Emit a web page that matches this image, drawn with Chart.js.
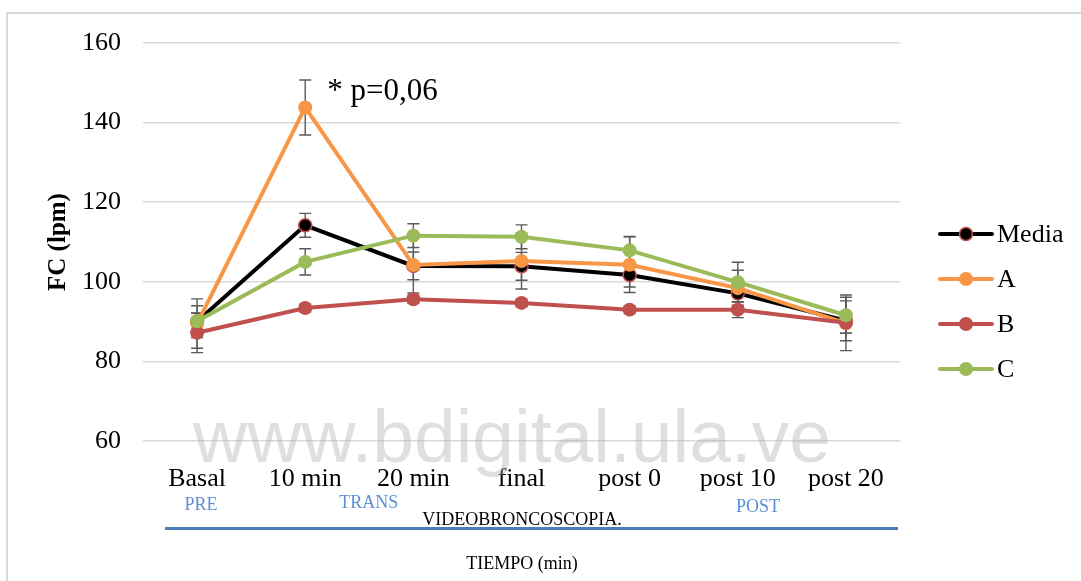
<!DOCTYPE html>
<html>
<head>
<meta charset="utf-8">
<title>FC (lpm) - Videobroncoscopia</title>
<script src="https://cdn.jsdelivr.net/npm/chart.js@4.4.1/dist/chart.umd.min.js"></script>
<style>
  html, body { margin: 0; padding: 0; background: #ffffff; }
  #wrap { position: relative; width: 1081px; height: 581px; }
</style>
</head>
<body>
<div id="wrap"><canvas id="chart" width="1081" height="581"></canvas></div>
<script>
// Categories (time points of the procedure)
const categories = ['Basal', '10 min', '20 min', 'final', 'post 0', 'post 10', 'post 20'];

// Heart rate (lpm) per group
const media  = [90.0, 114.2, 104.0, 103.9, 101.7, 97.1, 90.2];
const grupoA = [89.5, 143.8, 104.2, 105.2, 104.3, 98.4, 89.6];
const grupoB = [87.2, 93.4, 95.6, 94.7, 93.0, 93.0, 89.7];
const grupoC = [90.1, 105.0, 111.6, 111.3, 107.9, 99.9, 91.6];

// Symmetric error (± lpm) per group
const errMedia = [4.0, 3.0, 3.5, 3.5, 3.0, 3.0, 5.0];
const errA     = [6.2, 6.9, 7.0, 7.0, 7.0, 4.5, 2.5];
const errB     = [5.0, 1.0, 1.0, 1.0, 1.0, 2.0, 7.0];
const errC     = [2.0, 3.3, 3.0, 3.0, 3.5, 5.0, 4.5];

// Y axis ticks
const yTicks = [60, 80, 100, 120, 140, 160];

// Phase labels under the axis
const phaseLabels = ['PRE', 'TRANS', 'POST'];
const phaseAt = [0, 1.55, 5.15];   // category positions of the phase labels

const colors = {
  Media: '#000000',
  A: '#f79646',
  B: '#c0504d',
  C: '#9bbb59'
};

const SERIF = '"Liberation Serif", "Times New Roman", serif';

// Excel-style vertical error bars with caps, drawn beneath the lines
const errorBars = {
  id: 'errorBars',
  beforeDatasetsDraw(chart) {
    const { ctx, scales: { x, y } } = chart;
    ctx.save();
    ctx.strokeStyle = '#5a5a5a';
    ctx.lineWidth = 1.4;
    chart.data.datasets.forEach(ds => {
      ds.data.forEach((v, i) => {
        const e = ds.errors[i];
        if (e == null) return;
        const px = x.getPixelForValue(i);
        const top = y.getPixelForValue(v + e);
        const bot = y.getPixelForValue(v - e);
        ctx.beginPath();
        ctx.moveTo(px, top); ctx.lineTo(px, bot);
        ctx.moveTo(px - 6, top); ctx.lineTo(px + 6, top);
        ctx.moveTo(px - 6, bot); ctx.lineTo(px + 6, bot);
        ctx.stroke();
      });
    });
    ctx.restore();
  }
};

// Frame, legend, annotations and time-axis labels
const decorations = {
  id: 'decorations',
  beforeDraw(chart) {
    const { ctx } = chart;
    ctx.save();
    ctx.fillStyle = '#ffffff';
    ctx.fillRect(0, 0, chart.width, chart.height);
    ctx.strokeStyle = '#d9d9d9';
    ctx.lineWidth = 2;
    ctx.strokeRect(7, 13, chart.width + 20, chart.height + 20);
    ctx.restore();
  },
  afterDraw(chart) {
    const { ctx, scales: { x, y } } = chart;
    ctx.save();

    // significance note next to the 10 min peak
    ctx.fillStyle = '#000000';
    ctx.font = '31px ' + SERIF;
    ctx.textAlign = 'left';
    ctx.textBaseline = 'middle';
    ctx.fillText('* p=0,06', x.getPixelForValue(1) + 22, y.getPixelForValue(147.6));

    // legend
    const legendX = 940, legendY0 = 234, legendStep = 45;
    chart.data.datasets.forEach((ds, k) => {
      const ly = legendY0 + k * legendStep;
      ctx.strokeStyle = ds.borderColor;
      ctx.lineWidth = 4;
      ctx.lineCap = 'round';
      ctx.beginPath();
      ctx.moveTo(legendX, ly); ctx.lineTo(legendX + 52, ly);
      ctx.stroke();
      ctx.beginPath();
      ctx.arc(legendX + 26, ly, ds.pointRadius, 0, Math.PI * 2);
      ctx.fillStyle = ds.pointBackgroundColor;
      ctx.fill();
      if (ds.pointBorderWidth) {
        ctx.lineWidth = ds.pointBorderWidth;
        ctx.strokeStyle = ds.pointBorderColor;
        ctx.stroke();
      }
      ctx.fillStyle = '#000000';
      ctx.font = '26px ' + SERIF;
      ctx.textAlign = 'left';
      ctx.textBaseline = 'middle';
      ctx.fillText(ds.label, legendX + 57, ly + 1);
    });

    // phase labels
    ctx.font = '18px ' + SERIF;
    ctx.fillStyle = '#5b8fd6';
    ctx.textAlign = 'center';
    ctx.textBaseline = 'middle';
    const phaseY = [505, 503, 507];
    phaseLabels.forEach((t, k) => {
      const px = x.getPixelForValue(0) + phaseAt[k] * (x.getPixelForValue(1) - x.getPixelForValue(0));
      ctx.fillText(t, px + 4, phaseY[k]);
    });

    ctx.fillStyle = '#000000';
    ctx.fillText('VIDEOBRONCOSCOPIA.', 522, 520);

    // procedure timeline bar
    ctx.strokeStyle = '#4a7ebb';
    ctx.lineWidth = 3;
    ctx.lineCap = 'butt';
    ctx.beginPath();
    ctx.moveTo(165, 528.5); ctx.lineTo(898, 528.5);
    ctx.stroke();

    ctx.fillStyle = '#000000';
    ctx.font = '18px ' + SERIF;
    ctx.fillText('TIEMPO (min)', 522, 564);

    // site watermark
    ctx.font = '75px "Liberation Sans", Arial, sans-serif';
    ctx.fillStyle = 'rgba(175,175,175,0.4)';
    ctx.textBaseline = 'alphabetic';
    ctx.fillText('www.bdigital.ula.ve', 512, 462);

    ctx.restore();
  }
};

function lineSeries(name, values, errors, extra) {
  return Object.assign({
    label: name,
    data: values,
    errors: errors,
    borderColor: colors[name],
    backgroundColor: colors[name],
    pointBackgroundColor: colors[name],
    pointBorderColor: colors[name],
    pointBorderWidth: 0,
    pointRadius: 7,
    pointHoverRadius: 7,
    borderWidth: 4,
    tension: 0,
    fill: false
  }, extra || {});
}

new Chart(document.getElementById('chart'), {
  type: 'line',
  data: {
    labels: categories,
    datasets: [
      lineSeries('Media', media, errMedia, { pointBorderColor: '#c0504d', pointBorderWidth: 1.5, pointRadius: 6.5, order: 3 }),
      lineSeries('A', grupoA, errA, { order: 2 }),
      lineSeries('B', grupoB, errB, { order: 1 }),
      lineSeries('C', grupoC, errC, { order: 0 })
    ]
  },
  options: {
    responsive: false,
    animation: false,
    devicePixelRatio: 1,
    layout: { padding: { top: 43, right: 181, bottom: 0, left: 0 } },
    plugins: {
      legend: { display: false },
      tooltip: { enabled: false }
    },
    scales: {
      x: {
        type: 'category',
        offset: true,
        grid: { display: false },
        border: { display: false },
        ticks: {
          color: '#000000',
          font: { family: SERIF, size: 26 },
          padding: 15,
          maxRotation: 0,
          autoSkip: false
        },
        afterFit(scale) { scale.height = 140; }
      },
      y: {
        min: 60,
        max: 160,
        afterBuildTicks(scale) { scale.ticks = yTicks.map(v => ({ value: v })); },
        grid: { color: '#d9d9d9', lineWidth: 1.5, drawTicks: false },
        border: { display: false },
        ticks: {
          color: '#000000',
          font: { family: SERIF, size: 26 },
          padding: 22
        },
        title: {
          display: true,
          text: 'FC (lpm)',
          color: '#000000',
          font: { family: SERIF, size: 25, weight: 'bold' },
          padding: { top: 44, bottom: 0 }
        },
        afterFit(scale) { scale.width = 143; }
      }
    }
  },
  plugins: [errorBars, decorations]
});
</script>
</body>
</html>
